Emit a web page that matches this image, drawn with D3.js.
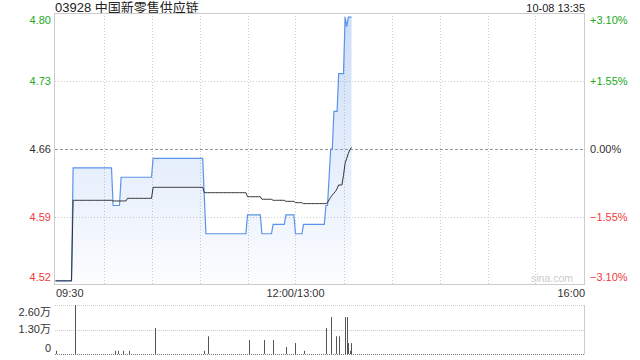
<!DOCTYPE html>
<html>
<head>
<meta charset="utf-8">
<script src="https://cdn.jsdelivr.net/npm/d3@7/dist/d3.min.js"></script>
<style>
  html, body { margin: 0; padding: 0; background: #fff; }
  svg { display: block; font-family: "Liberation Sans", Arial, "Noto Sans CJK SC", sans-serif; }
</style>
</head>
<body>
<svg id="chart" width="640" height="360"></svg>
<script>
const title = "03928 中国新零售供应链";
const stamp = "10-08 13:35";
const prevClose = 4.66;
const pctTicks = [3.1, 1.55, 0, -1.55, -3.1];
const timeLabels = ["09:30", "12:00/13:00", "16:00"];
const volTicks = [26000, 13000, 0];
const volTickLabels = ["2.60万", "1.30万", "0"];

// minute index (0 = 09:30, 150 = 12:00/13:00, 330 = 16:00) where price changes
const priceMins = [0, 11, 36, 41, 61, 93, 94, 120, 129, 136, 144, 150, 155, 169, 171, 172, 174, 177, 181, 182, 183];
const priceVals = [4.52, 4.64, 4.60, 4.63, 4.65, 4.61, 4.57, 4.59, 4.57, 4.58, 4.59, 4.57, 4.58, 4.60, 4.63, 4.66, 4.70, 4.74, 4.80, 4.79, 4.80];

// average price, same encoding
const avgMins = [0, 11, 36, 45, 61, 93, 120, 129, 136, 144, 150, 155, 170, 171, 172, 173, 174, 175, 176, 177, 180, 181, 182, 183, 184, 185];
const avgVals = [4.52, 4.6055, 4.6048, 4.6076, 4.6193, 4.6136, 4.6093, 4.6066, 4.6055, 4.6044, 4.6030, 4.6020, 4.6030, 4.6060, 4.6087, 4.6110, 4.6130, 4.6150, 4.6180, 4.6218, 4.6320, 4.6448, 4.6500, 4.6554, 4.6590, 4.6618];

const lastMinute = 185;

// volume bars (shares)
const volMins = [0, 12, 37, 39, 42, 46, 62, 93, 95, 121, 130, 136, 144, 150, 155, 169, 172, 175, 177, 181, 182, 183, 184, 185];
const volVals = [1700, 26000, 1700, 1700, 1700, 1700, 13800, 1700, 9400, 7400, 7400, 7400, 3700, 5800, 1700, 13800, 19600, 9400, 9400, 19600, 19600, 5800, 1700, 5800];

const green = "#22a822", red = "#f23a3a", ink = "#333";

// carry each change point forward minute by minute
function expand(mins, vals) {
  const out = [];
  let j = 0;
  for (let m = 0; m <= lastMinute; m++) {
    while (j + 1 < mins.length && mins[j + 1] <= m) j++;
    out.push({ m, v: vals[j] });
  }
  return out;
}
const price = expand(priceMins, priceVals);
const avg = expand(avgMins, avgVals);

const L = 55, R = 585, T = 13, B = 285;
const VT = 305, VB = 354;

const svg = d3.select("#chart");

const x = d3.scaleLinear().domain([0, 330]).range([L + 0.5, R - 1.5]);
const y = d3.scaleLinear()
  .domain([prevClose * (1 - 0.031), prevClose * (1 + 0.031)])
  .range([B, T]);
const yv = d3.scaleLinear().domain([0, 26000]).range([VB, VT]);

const colorFor = (p) => (p > 0 ? green : p < 0 ? red : ink);

// gradient under price line
const grad = svg.append("defs").append("linearGradient")
  .attr("id", "fill")
  .attr("gradientUnits", "userSpaceOnUse")
  .attr("x1", 0).attr("y1", T).attr("x2", 0).attr("y2", B);
grad.append("stop").attr("offset", 0).attr("stop-color", "#5b93ea").attr("stop-opacity", 0.32);
grad.append("stop").attr("offset", 1).attr("stop-color", "#5b93ea").attr("stop-opacity", 0.02);

// Title
svg.append("text").attr("x", L).attr("y", 11.5)
  .attr("font-size", 13).attr("fill", "#222").text(title);
svg.append("text").attr("x", R).attr("y", 11.5).attr("text-anchor", "end")
  .attr("font-size", 11).attr("fill", "#222").text(stamp);

// Grid
const grid = svg.append("g");
d3.range(30, 330, 30).forEach((m) => {
  grid.append("line")
    .attr("x1", Math.round(x(m)) + 0.5).attr("x2", Math.round(x(m)) + 0.5)
    .attr("y1", T).attr("y2", B)
    .attr("stroke", "#ccc").attr("stroke-dasharray", "1,2");
});
pctTicks.forEach((p) => {
  if (Math.abs(p) === 3.1) return;
  const yy = Math.round(y(prevClose * (1 + p / 100))) + 0.5;
  grid.append("line")
    .attr("x1", L).attr("x2", R).attr("y1", yy).attr("y2", yy)
    .attr("stroke", p === 0 ? "#999" : "#ccc")
    .attr("stroke-dasharray", p === 0 ? "3,2" : "1,2");
});

// Watermark
svg.append("text").attr("x", R - 12).attr("y", 282).attr("text-anchor", "end")
  .attr("font-size", 10.5).attr("fill", "#ccc").text("sina.com");

// Area + lines
svg.append("path").datum(price)
  .attr("fill", "url(#fill)")
  .attr("d", d3.area().x((d) => x(d.m)).y0(B).y1((d) => y(d.v)));
svg.append("path").datum(price)
  .attr("fill", "none").attr("stroke", "#5b93ea").attr("stroke-width", 1.2)
  .attr("d", d3.line().x((d) => x(d.m)).y((d) => y(d.v)));
svg.append("path").datum(avg)
  .attr("fill", "none").attr("stroke", "#333").attr("stroke-width", 1)
  .attr("d", d3.line().x((d) => x(d.m)).y((d) => y(d.v)));

// Frame
svg.append("rect").attr("x", L - 0.5).attr("y", T + 0.5)
  .attr("width", R - L).attr("height", B - T - 1)
  .attr("fill", "none").attr("stroke", "#ccc");

// Price / percent labels
pctTicks.forEach((p, i) => {
  const yy = i === 0 ? T + 7.5 : i === pctTicks.length - 1 ? B - 8 : y(prevClose * (1 + p / 100));
  svg.append("text").attr("x", L - 4).attr("y", yy).attr("dy", "0.35em")
    .attr("text-anchor", "end").attr("font-size", 11).attr("fill", colorFor(p))
    .text(d3.format(".2f")(prevClose * (1 + p / 100)));
  svg.append("text").attr("x", R + 5).attr("y", yy).attr("dy", "0.35em")
    .attr("font-size", 11).attr("fill", colorFor(p))
    .text((p > 0 ? "+" : "") + d3.format(".2f")(p) + "%");
});

// Time labels
svg.append("text").attr("x", L + 1).attr("y", 297).attr("font-size", 11).attr("fill", ink).text(timeLabels[0]);
svg.append("text").attr("x", x(150)).attr("y", 297).attr("text-anchor", "middle").attr("font-size", 11).attr("fill", ink).text(timeLabels[1]);
svg.append("text").attr("x", R).attr("y", 297).attr("text-anchor", "end").attr("font-size", 11).attr("fill", ink).text(timeLabels[2]);

// Volume panel
const vol = svg.append("g");
volTicks.forEach((v, i) => {
  const yy = Math.round(yv(v)) + 0.5;
  vol.append("line").attr("x1", L).attr("x2", R).attr("y1", yy).attr("y2", yy)
    .attr("stroke", v === 0 ? "#777" : "#ccc").attr("stroke-dasharray", "1,1");
  const ly = i === 0 ? VT + 7 : i === volTicks.length - 1 ? VB - 6 : yv(v);
  vol.append("text").attr("x", L - 4).attr("y", ly).attr("dy", "0.35em")
    .attr("text-anchor", "end").attr("font-size", 11).attr("fill", ink)
    .text(volTickLabels[i]);
});
vol.append("line").attr("x1", R - 0.5).attr("x2", R - 0.5).attr("y1", VT).attr("y2", VB + 0.5)
  .attr("stroke", "#ccc");
vol.selectAll("rect.bar")
  .data(volMins.map((m, i) => ({ m, v: volVals[i] })))
  .join("rect").attr("class", "bar")
  .attr("x", (d) => Math.round(x(d.m)))
  .attr("width", 1)
  .attr("y", (d) => yv(d.v))
  .attr("height", (d) => VB - yv(d.v))
  .attr("fill", "#555");
</script>
</body>
</html>
